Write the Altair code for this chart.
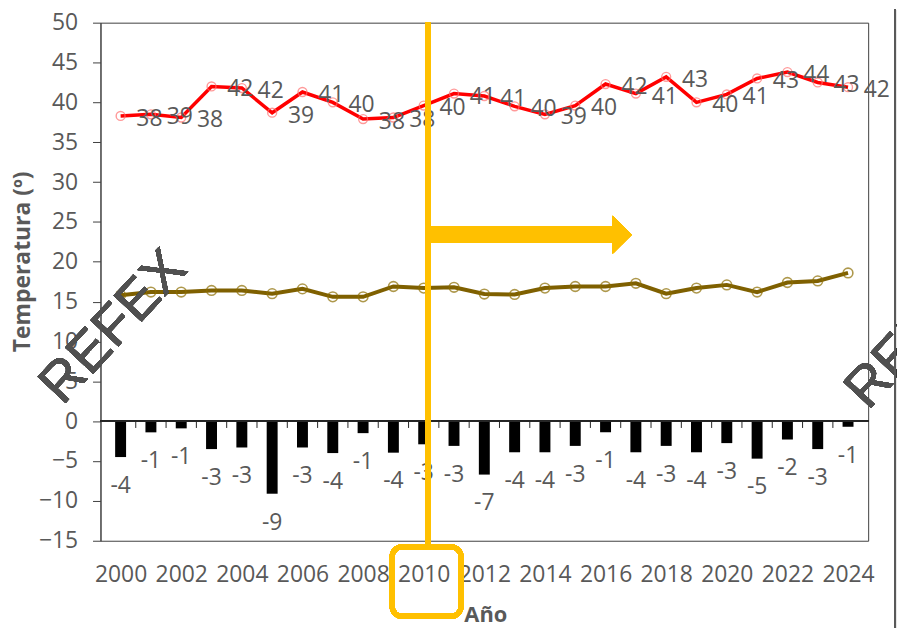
import altair as alt
import pandas as pd

years = list(range(2000, 2025))
tmax = [38.3, 38.5, 38.1, 42.0, 41.8, 38.7, 41.3, 40.0, 37.9, 38.1, 39.6, 41.1, 40.8,
        39.5, 38.5, 39.6, 42.3, 41.1, 43.2, 40.0, 41.0, 43.0, 43.8, 42.5, 41.9]
tmax_labels = [38, 39, 38, 42, 42, 39, 41, 40, 38, 38, 40, 41, 41, 40, 39, 40, 42, 41,
               43, 40, 41, 43, 44, 43, 42]
tmean = [15.8, 16.2, 16.2, 16.4, 16.4, 16.0, 16.6, 15.6, 15.6, 16.9, 16.7, 16.8, 15.95,
         15.9, 16.7, 16.9, 16.9, 17.3, 16.0, 16.7, 17.1, 16.2, 17.4, 17.6, 18.6]
anom = [-4.5, -1.4, -0.9, -3.5, -3.3, -9.1, -3.3, -4.0, -1.5, -3.95, -2.9, -3.1, -6.7,
        -3.9, -3.9, -3.1, -1.4, -3.9, -3.1, -3.9, -2.75, -4.7, -2.3, -3.5, -0.7]
anom_labels = [-4, -1, -1, -3, -3, -9, -3, -4, -1, -4, -3, -3, -7, -4, -4, -3, -1, -4,
               -3, -4, -3, -5, -2, -3, -1]
xtick_values = list(range(2000, 2025, 2))
ytick_values = list(range(-15, 51, 5))

W, H = 772, 521
GRAY = "#595959"
FONT = "Open Sans"
ORANGE = "#FFC000"
FS = 23

df = pd.DataFrame({"year": years, "tmax": tmax, "tmax_label": [str(v) for v in tmax_labels],
                   "tmean": tmean, "anom": anom, "anom_label": [str(v) for v in anom_labels]})
bounds = pd.DataFrame({"b": [y + 0.5 for y in years[:-1]]})

xs = alt.Scale(domain=[1999.5, 2024.5], nice=False, zero=False)
ys = alt.Scale(domain=[-15, 50], nice=False, zero=False)

xaxis = alt.Axis(values=xtick_values, format="d", title="Año", ticks=False, domain=False,
                 grid=False, labelFont=FONT, labelFontSize=FS, labelColor=GRAY,
                 labelPadding=23, titleFont=FONT, titleFontSize=22, titleFontWeight="bold",
                 titleColor=GRAY, titleX=387, titleY=74, titleBaseline="middle",
                 titleAnchor="start", titleAlign="center", labelFlush=False)
yaxis = alt.Axis(values=ytick_values, title="Temperatura (º)", grid=False,
                 labelFont=FONT, labelFontSize=FS, labelColor=GRAY, labelPadding=15,
                 tickSize=8, tickColor="#404040", domainColor="#404040",
                 titleFont=FONT, titleFontSize=23, titleFontWeight="bold",
                 titleColor=GRAY, titleX=-78, titleY=240, titleBaseline="middle",
                 titleAlign="center", titleAnchor="start", labelFlush=False)


def X(field):
    return alt.X(field, scale=xs, axis=xaxis)


def Y(field):
    return alt.Y(field, scale=ys, axis=yaxis)


def XD(v):
    return alt.X(datum=v, scale=xs, axis=xaxis)


def YD(v):
    return alt.Y(datum=v, scale=ys, axis=yaxis)


base = alt.Chart(df)

bars = base.mark_bar(color="#000000", size=11).encode(
    x=X("year:Q"), y=Y("anom:Q"), y2=alt.datum(0)
)
bar_labels = base.mark_text(font=FONT, fontSize=FS, color=GRAY, dy=29, baseline="middle").encode(
    x=X("year:Q"), y=Y("anom:Q"), text="anom_label:N"
)

zero_line = alt.Chart(df).mark_rule(color="#262626", strokeWidth=1).encode(
    y=YD(0), x=alt.value(0), x2=alt.value(W)
)
zero_ticks = alt.Chart(bounds).mark_rule(color="#262626", strokeWidth=1).encode(
    x=X("b:Q"), y=YD(0), y2=alt.datum(-0.85)
)

mean_line = base.mark_line(color="#7F6000", strokeWidth=4).encode(x=X("year:Q"), y=Y("tmean:Q"))
mean_pts = base.mark_point(color="#8C6D00", filled=False, size=95, strokeWidth=1.6).encode(
    x=X("year:Q"), y=Y("tmean:Q")
)

max_line = base.mark_line(color="#FF0000", strokeWidth=3.5).encode(x=X("year:Q"), y=Y("tmax:Q"))
max_pts = base.mark_point(color="#FF6F6F", filled=False, size=80, strokeWidth=1.4).encode(
    x=X("year:Q"), y=Y("tmax:Q")
)
max_labels = base.mark_text(font=FONT, fontSize=FS, color=GRAY, dx=29, dy=3,
                            baseline="middle").encode(
    x=X("year:Q"), y=Y("tmax:Q"), text="tmax_label:N"
)

# annotations
mark_year = 2010.14
vline = alt.Chart(df).mark_rule(color=ORANGE, strokeWidth=5, strokeCap="butt").encode(
    x=XD(mark_year), y=YD(50), y2=alt.datum(-15.4)
)
arrow_body = alt.Chart(df).mark_rule(color=ORANGE, strokeWidth=16, strokeCap="butt").encode(
    x=XD(mark_year), x2=alt.datum(2016.3), y=YD(23.4)
)
arrow_head = alt.Chart(df).mark_point(
    shape="M -0.5,-1 L 0.5,0 L -0.5,1 Z", size=1444, filled=True, color=ORANGE, opacity=1
).encode(x=XD(2016.55), y=YD(23.4))
box = alt.Chart(df).mark_rect(
    filled=False, stroke=ORANGE, strokeWidth=5, cornerRadius=10
).encode(x=XD(2008.96), x2=alt.datum(2011.23), y=alt.value(527), y2=alt.value(597))

wm1 = alt.Chart(df).mark_text(
    text="REFEX", font="Liberation Sans", fontSize=56, angle=313, color="#505050",
    opacity=0.65, align="center", baseline="middle"
).encode(x=alt.value(13), y=alt.value(306))
wm2 = alt.Chart(df).mark_text(
    text="REFEX", font="Liberation Sans", fontSize=56, angle=313, color="#505050",
    opacity=0.65, align="center", baseline="middle"
).encode(x=alt.value(823), y=alt.value(311))
edge = alt.Chart(df).mark_rule(color="#595959", strokeWidth=2).encode(
    x=alt.value(799), y=alt.value(-13), y2=alt.value(610)
)

chart = alt.layer(
    bars, zero_line, zero_ticks, bar_labels, mean_line, mean_pts, max_line, max_pts,
    max_labels, vline, arrow_body, arrow_head, box, wm1, wm2, edge
).properties(
    width=W, height=H,
    autosize=alt.AutoSizeParams(type="none"),
    padding={"left": 93, "top": 13, "right": 29, "bottom": 86},
    background="white",
).configure_view(stroke="#404040", strokeWidth=1)

chart.save("out.html", embed_options={"renderer": "svg", "actions": False})
